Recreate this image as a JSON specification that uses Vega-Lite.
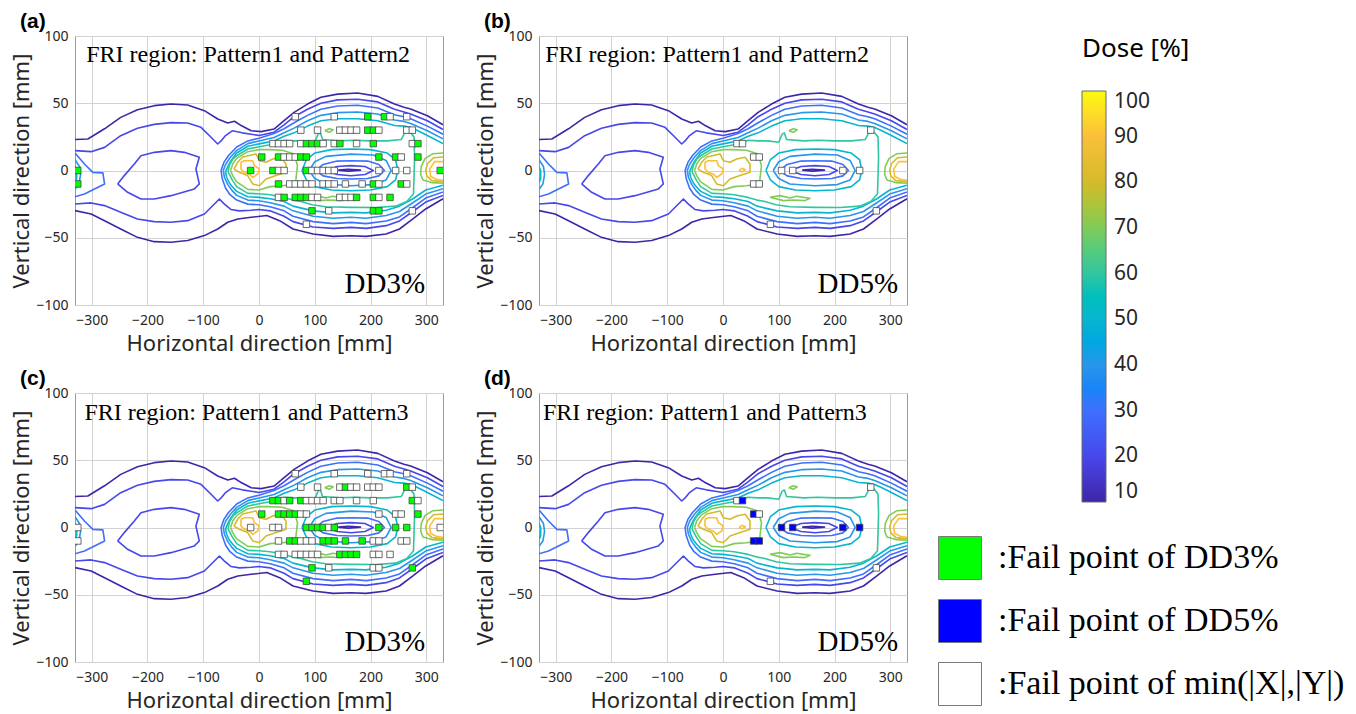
{
"$schema":"https://vega.github.io/schema/vega-lite/v6.json",
"background":"white",
"padding":{"left":10,"top":10,"right":5,"bottom":5},
"datasets":{
"ct":[
{"c":"t10","l":10,"o":0,"x":-330,"y":23},{"c":"t10","l":10,"o":1,"x":-307,"y":23.4},{"c":"t10","l":10,"o":2,"x":-277,"y":31},{"c":"t10","l":10,"o":3,"x":-248,"y":39.5},{"c":"t10","l":10,"o":4,"x":-218,"y":45.2},{"c":"t10","l":10,"o":5,"x":-188,"y":48.2},{"c":"t10","l":10,"o":6,"x":-158,"y":49.4},{"c":"t10","l":10,"o":7,"x":-128,"y":48.7},{"c":"t10","l":10,"o":8,"x":-98,"y":44.5},{"c":"t10","l":10,"o":9,"x":-74,"y":38.3},{"c":"t10","l":10,"o":10,"x":-56,"y":35.3},{"c":"t10","l":10,"o":11,"x":-44,"y":36.6},{"c":"t10","l":10,"o":12,"x":-32,"y":33.4},{"c":"t10","l":10,"o":13,"x":-14,"y":29.6},{"c":"t10","l":10,"o":14,"x":4,"y":28.9},{"c":"t10","l":10,"o":15,"x":27,"y":30.8},{"c":"t10","l":10,"o":16,"x":45,"y":37},{"c":"t10","l":10,"o":17,"x":63,"y":43.2},{"c":"t10","l":10,"o":18,"x":87,"y":49.4},{"c":"t10","l":10,"o":19,"x":111,"y":54.4},{"c":"t10","l":10,"o":20,"x":141,"y":56.8},{"c":"t10","l":10,"o":21,"x":177,"y":57.6},{"c":"t10","l":10,"o":22,"x":213,"y":55.1},{"c":"t10","l":10,"o":23,"x":243,"y":49.4},{"c":"t10","l":10,"o":24,"x":260,"y":47},{"c":"t10","l":10,"o":25,"x":272,"y":45.7},{"c":"t10","l":10,"o":26,"x":302,"y":40.7},{"c":"t10","l":10,"o":27,"x":330,"y":34},
{"c":"b10","l":10,"o":0,"x":-330,"y":-29.8},{"c":"b10","l":10,"o":1,"x":-301,"y":-32.3},{"c":"b10","l":10,"o":2,"x":-277,"y":-37.3},{"c":"b10","l":10,"o":3,"x":-248,"y":-43.5},{"c":"b10","l":10,"o":4,"x":-218,"y":-49.7},{"c":"b10","l":10,"o":5,"x":-188,"y":-52.9},{"c":"b10","l":10,"o":6,"x":-158,"y":-53.4},{"c":"b10","l":10,"o":7,"x":-128,"y":-52.1},{"c":"b10","l":10,"o":8,"x":-98,"y":-48.4},{"c":"b10","l":10,"o":9,"x":-74,"y":-43.5},{"c":"b10","l":10,"o":10,"x":-56,"y":-38.5},{"c":"b10","l":10,"o":11,"x":-38,"y":-36},{"c":"b10","l":10,"o":12,"x":-14,"y":-34.8},{"c":"b10","l":10,"o":13,"x":14,"y":-33.5},{"c":"b10","l":10,"o":14,"x":37,"y":-37.3},{"c":"b10","l":10,"o":15,"x":61,"y":-43.5},{"c":"b10","l":10,"o":16,"x":97,"y":-47.2},{"c":"b10","l":10,"o":17,"x":133,"y":-49},{"c":"b10","l":10,"o":18,"x":165,"y":-48.5},{"c":"b10","l":10,"o":19,"x":192,"y":-49},{"c":"b10","l":10,"o":20,"x":228,"y":-47.2},{"c":"b10","l":10,"o":21,"x":252,"y":-43.5},{"c":"b10","l":10,"o":22,"x":276,"y":-36},{"c":"b10","l":10,"o":23,"x":299,"y":-28.6},{"c":"b10","l":10,"o":24,"x":330,"y":-21},
{"c":"t20","l":20,"o":0,"x":-330,"y":14.8},{"c":"t20","l":20,"o":1,"x":-301,"y":14},{"c":"t20","l":20,"o":2,"x":-277,"y":17.2},{"c":"t20","l":20,"o":3,"x":-248,"y":25.9},{"c":"t20","l":20,"o":4,"x":-218,"y":31.4},{"c":"t20","l":20,"o":5,"x":-188,"y":34.3},{"c":"t20","l":20,"o":6,"x":-158,"y":35.6},{"c":"t20","l":20,"o":7,"x":-128,"y":35.3},{"c":"t20","l":20,"o":8,"x":-104,"y":32.1},{"c":"t20","l":20,"o":9,"x":-86,"y":24.7},{"c":"t20","l":20,"o":10,"x":-74,"y":19.7},{"c":"t20","l":20,"o":11,"x":-68,"y":22},{"c":"t20","l":20,"o":12,"x":-60,"y":26},{"c":"t20","l":20,"o":13,"x":-48,"y":29.5},{"c":"t20","l":20,"o":14,"x":-30,"y":28},{"c":"t20","l":20,"o":15,"x":-14,"y":27},{"c":"t20","l":20,"o":16,"x":0,"y":26},{"c":"t20","l":20,"o":17,"x":27,"y":28.5},{"c":"t20","l":20,"o":18,"x":45,"y":34},{"c":"t20","l":20,"o":19,"x":63,"y":40},{"c":"t20","l":20,"o":20,"x":87,"y":45.5},{"c":"t20","l":20,"o":21,"x":111,"y":50},{"c":"t20","l":20,"o":22,"x":141,"y":52.5},{"c":"t20","l":20,"o":23,"x":177,"y":53},{"c":"t20","l":20,"o":24,"x":213,"y":51},{"c":"t20","l":20,"o":25,"x":243,"y":45.5},{"c":"t20","l":20,"o":26,"x":260,"y":43.5},{"c":"t20","l":20,"o":27,"x":272,"y":42},{"c":"t20","l":20,"o":28,"x":302,"y":37},{"c":"t20","l":20,"o":29,"x":330,"y":30.5},
{"c":"b20","l":20,"o":0,"x":-330,"y":-24.9},{"c":"b20","l":20,"o":1,"x":-301,"y":-24.1},{"c":"b20","l":20,"o":2,"x":-277,"y":-26.1},{"c":"b20","l":20,"o":3,"x":-248,"y":-31.1},{"c":"b20","l":20,"o":4,"x":-218,"y":-36},{"c":"b20","l":20,"o":5,"x":-188,"y":-38},{"c":"b20","l":20,"o":6,"x":-158,"y":-38.5},{"c":"b20","l":20,"o":7,"x":-128,"y":-37.3},{"c":"b20","l":20,"o":8,"x":-98,"y":-32.3},{"c":"b20","l":20,"o":9,"x":-80,"y":-24.9},{"c":"b20","l":20,"o":10,"x":-71,"y":-21.2},{"c":"b20","l":20,"o":11,"x":-62,"y":-25},{"c":"b20","l":20,"o":12,"x":-50,"y":-29},{"c":"b20","l":20,"o":13,"x":-35,"y":-30},{"c":"b20","l":20,"o":14,"x":-14,"y":-29.5},{"c":"b20","l":20,"o":15,"x":0,"y":-29},{"c":"b20","l":20,"o":16,"x":20,"y":-30},{"c":"b20","l":20,"o":17,"x":45,"y":-34},{"c":"b20","l":20,"o":18,"x":61,"y":-38},{"c":"b20","l":20,"o":19,"x":97,"y":-42},{"c":"b20","l":20,"o":20,"x":133,"y":-43},{"c":"b20","l":20,"o":21,"x":165,"y":-42.3},{"c":"b20","l":20,"o":22,"x":192,"y":-43},{"c":"b20","l":20,"o":23,"x":228,"y":-41},{"c":"b20","l":20,"o":24,"x":252,"y":-37.5},{"c":"b20","l":20,"o":25,"x":276,"y":-30.5},{"c":"b20","l":20,"o":26,"x":299,"y":-23.5},{"c":"b20","l":20,"o":27,"x":330,"y":-18.5},
{"c":"r30","l":30,"o":0,"x":330,"y":27},{"c":"r30","l":30,"o":1,"x":302,"y":33},{"c":"r30","l":30,"o":2,"x":272,"y":38.5},{"c":"r30","l":30,"o":3,"x":260,"y":40},{"c":"r30","l":30,"o":4,"x":243,"y":41.5},{"c":"r30","l":30,"o":5,"x":213,"y":46.5},{"c":"r30","l":30,"o":6,"x":177,"y":48.5},{"c":"r30","l":30,"o":7,"x":141,"y":48},{"c":"r30","l":30,"o":8,"x":111,"y":45.5},{"c":"r30","l":30,"o":9,"x":87,"y":41},{"c":"r30","l":30,"o":10,"x":63,"y":35.5},{"c":"r30","l":30,"o":11,"x":45,"y":31},{"c":"r30","l":30,"o":12,"x":27,"y":27.5},{"c":"r30","l":30,"o":13,"x":0,"y":24},{"c":"r30","l":30,"o":14,"x":-20,"y":22},{"c":"r30","l":30,"o":15,"x":-40,"y":17.5},{"c":"r30","l":30,"o":16,"x":-55,"y":11},{"c":"r30","l":30,"o":17,"x":-63,"y":6},{"c":"r30","l":30,"o":18,"x":-68,"y":0},{"c":"r30","l":30,"o":19,"x":-66,"y":-6},{"c":"r30","l":30,"o":20,"x":-60,"y":-13},{"c":"r30","l":30,"o":21,"x":-52,"y":-18},{"c":"r30","l":30,"o":22,"x":-40,"y":-22},{"c":"r30","l":30,"o":23,"x":-20,"y":-25},{"c":"r30","l":30,"o":24,"x":0,"y":-25.5},{"c":"r30","l":30,"o":25,"x":20,"y":-27},{"c":"r30","l":30,"o":26,"x":45,"y":-30},{"c":"r30","l":30,"o":27,"x":61,"y":-34},{"c":"r30","l":30,"o":28,"x":97,"y":-38},{"c":"r30","l":30,"o":29,"x":133,"y":-39.5},{"c":"r30","l":30,"o":30,"x":165,"y":-38.6},{"c":"r30","l":30,"o":31,"x":192,"y":-39.5},{"c":"r30","l":30,"o":32,"x":228,"y":-37.5},{"c":"r30","l":30,"o":33,"x":252,"y":-34.5},{"c":"r30","l":30,"o":34,"x":276,"y":-27.5},{"c":"r30","l":30,"o":35,"x":299,"y":-20.5},{"c":"r30","l":30,"o":36,"x":330,"y":-16},
{"c":"r40","l":40,"o":0,"x":330,"y":23.5},{"c":"r40","l":40,"o":1,"x":302,"y":29.5},{"c":"r40","l":40,"o":2,"x":272,"y":35},{"c":"r40","l":40,"o":3,"x":260,"y":36.5},{"c":"r40","l":40,"o":4,"x":243,"y":37.5},{"c":"r40","l":40,"o":5,"x":213,"y":42},{"c":"r40","l":40,"o":6,"x":177,"y":43.5},{"c":"r40","l":40,"o":7,"x":141,"y":43},{"c":"r40","l":40,"o":8,"x":111,"y":41},{"c":"r40","l":40,"o":9,"x":87,"y":37},{"c":"r40","l":40,"o":10,"x":63,"y":31.5},{"c":"r40","l":40,"o":11,"x":45,"y":28},{"c":"r40","l":40,"o":12,"x":27,"y":24.5},{"c":"r40","l":40,"o":13,"x":0,"y":22},{"c":"r40","l":40,"o":14,"x":-20,"y":20},{"c":"r40","l":40,"o":15,"x":-40,"y":15},{"c":"r40","l":40,"o":16,"x":-52,"y":9.5},{"c":"r40","l":40,"o":17,"x":-60,"y":4.5},{"c":"r40","l":40,"o":18,"x":-64,"y":0},{"c":"r40","l":40,"o":19,"x":-62,"y":-5},{"c":"r40","l":40,"o":20,"x":-56,"y":-10.5},{"c":"r40","l":40,"o":21,"x":-48,"y":-15},{"c":"r40","l":40,"o":22,"x":-40,"y":-18.5},{"c":"r40","l":40,"o":23,"x":-20,"y":-22},{"c":"r40","l":40,"o":24,"x":0,"y":-22.5},{"c":"r40","l":40,"o":25,"x":20,"y":-24},{"c":"r40","l":40,"o":26,"x":45,"y":-26.5},{"c":"r40","l":40,"o":27,"x":61,"y":-30},{"c":"r40","l":40,"o":28,"x":97,"y":-34},{"c":"r40","l":40,"o":29,"x":133,"y":-35.5},{"c":"r40","l":40,"o":30,"x":165,"y":-34.8},{"c":"r40","l":40,"o":31,"x":192,"y":-35.5},{"c":"r40","l":40,"o":32,"x":228,"y":-33.5},{"c":"r40","l":40,"o":33,"x":252,"y":-30.5},{"c":"r40","l":40,"o":34,"x":276,"y":-24},{"c":"r40","l":40,"o":35,"x":299,"y":-17.5},{"c":"r40","l":40,"o":36,"x":330,"y":-13.5},
{"c":"r50","l":50,"o":0,"x":330,"y":20},{"c":"r50","l":50,"o":1,"x":302,"y":26},{"c":"r50","l":50,"o":2,"x":285,"y":29.5},{"c":"r50","l":50,"o":3,"x":272,"y":32},{"c":"r50","l":50,"o":4,"x":260,"y":33},{"c":"r50","l":50,"o":5,"x":243,"y":33.5},{"c":"r50","l":50,"o":6,"x":213,"y":37},{"c":"r50","l":50,"o":7,"x":177,"y":38.5},{"c":"r50","l":50,"o":8,"x":141,"y":38.5},{"c":"r50","l":50,"o":9,"x":111,"y":37},{"c":"r50","l":50,"o":10,"x":87,"y":33},{"c":"r50","l":50,"o":11,"x":63,"y":28},{"c":"r50","l":50,"o":12,"x":45,"y":25.5},{"c":"r50","l":50,"o":13,"x":27,"y":22},{"c":"r50","l":50,"o":14,"x":0,"y":19.8},{"c":"r50","l":50,"o":15,"x":-20,"y":18},{"c":"r50","l":50,"o":16,"x":-40,"y":13},{"c":"r50","l":50,"o":17,"x":-50,"y":7.5},{"c":"r50","l":50,"o":18,"x":-56,"y":3},{"c":"r50","l":50,"o":19,"x":-60,"y":-1},{"c":"r50","l":50,"o":20,"x":-58,"y":-5},{"c":"r50","l":50,"o":21,"x":-53,"y":-9.5},{"c":"r50","l":50,"o":22,"x":-47,"y":-12.5},{"c":"r50","l":50,"o":23,"x":-40,"y":-15.5},{"c":"r50","l":50,"o":24,"x":-20,"y":-19.5},{"c":"r50","l":50,"o":25,"x":0,"y":-20},{"c":"r50","l":50,"o":26,"x":20,"y":-21},{"c":"r50","l":50,"o":27,"x":45,"y":-23},{"c":"r50","l":50,"o":28,"x":61,"y":-26.5},{"c":"r50","l":50,"o":29,"x":97,"y":-30},{"c":"r50","l":50,"o":30,"x":133,"y":-31.5},{"c":"r50","l":50,"o":31,"x":165,"y":-31.1},{"c":"r50","l":50,"o":32,"x":192,"y":-31.5},{"c":"r50","l":50,"o":33,"x":228,"y":-29.5},{"c":"r50","l":50,"o":34,"x":252,"y":-26.5},{"c":"r50","l":50,"o":35,"x":276,"y":-21},{"c":"r50","l":50,"o":36,"x":299,"y":-14.5},{"c":"r50","l":50,"o":37,"x":330,"y":-11},
{"c":"r60","l":60,"o":0,"x":-55.5,"y":-1},{"c":"r60","l":60,"o":1,"x":-53,"y":4},{"c":"r60","l":60,"o":2,"x":-47,"y":8.5},{"c":"r60","l":60,"o":3,"x":-40,"y":11},{"c":"r60","l":60,"o":4,"x":-20,"y":16},{"c":"r60","l":60,"o":5,"x":0,"y":17.7},{"c":"r60","l":60,"o":6,"x":25,"y":19.5},{"c":"r60","l":60,"o":7,"x":45,"y":22.5},{"c":"r60","l":60,"o":8,"x":63,"y":22},{"c":"r60","l":60,"o":9,"x":80,"y":22},{"c":"r60","l":60,"o":10,"x":100,"y":21},{"c":"r60","l":60,"o":11,"x":106,"y":27},{"c":"r60","l":60,"o":12,"x":110,"y":28},{"c":"r60","l":60,"o":13,"x":114,"y":23},{"c":"r60","l":60,"o":14,"x":145,"y":22},{"c":"r60","l":60,"o":15,"x":170,"y":22.5},{"c":"r60","l":60,"o":16,"x":200,"y":22},{"c":"r60","l":60,"o":17,"x":230,"y":22},{"c":"r60","l":60,"o":18,"x":255,"y":23},{"c":"r60","l":60,"o":19,"x":262,"y":28.5},{"c":"r60","l":60,"o":20,"x":270,"y":29},{"c":"r60","l":60,"o":21,"x":278,"y":25},{"c":"r60","l":60,"o":22,"x":279,"y":10},{"c":"r60","l":60,"o":23,"x":278,"y":-5},{"c":"r60","l":60,"o":24,"x":277,"y":-17.5},{"c":"r60","l":60,"o":25,"x":265,"y":-23},{"c":"r60","l":60,"o":26,"x":245,"y":-26.5},{"c":"r60","l":60,"o":27,"x":210,"y":-27.5},{"c":"r60","l":60,"o":28,"x":165,"y":-27.4},{"c":"r60","l":60,"o":29,"x":120,"y":-27},{"c":"r60","l":60,"o":30,"x":95,"y":-25.5},{"c":"r60","l":60,"o":31,"x":75,"y":-23},{"c":"r60","l":60,"o":32,"x":61,"y":-22},{"c":"r60","l":60,"o":33,"x":45,"y":-20},{"c":"r60","l":60,"o":34,"x":20,"y":-18},{"c":"r60","l":60,"o":35,"x":0,"y":-17.3},{"c":"r60","l":60,"o":36,"x":-20,"y":-17},{"c":"r60","l":60,"o":37,"x":-40,"y":-12},{"c":"r60","l":60,"o":38,"x":-48,"y":-7},{"c":"r60","l":60,"o":39,"x":-55.5,"y":-1},
{"c":"h70","l":70,"o":0,"x":-51,"y":0},{"c":"h70","l":70,"o":1,"x":-47,"y":5},{"c":"h70","l":70,"o":2,"x":-40,"y":9},{"c":"h70","l":70,"o":3,"x":-20,"y":14},{"c":"h70","l":70,"o":4,"x":0,"y":15.5},{"c":"h70","l":70,"o":5,"x":18,"y":15.5},{"c":"h70","l":70,"o":6,"x":42,"y":15},{"c":"h70","l":70,"o":7,"x":63,"y":12.3},{"c":"h70","l":70,"o":8,"x":69,"y":3.6},{"c":"h70","l":70,"o":9,"x":66,"y":-7.5},{"c":"h70","l":70,"o":10,"x":56,"y":-10.5},{"c":"h70","l":70,"o":11,"x":42,"y":-11.3},{"c":"h70","l":70,"o":12,"x":20,"y":-12},{"c":"h70","l":70,"o":13,"x":0,"y":-14.5},{"c":"h70","l":70,"o":14,"x":-20,"y":-14},{"c":"h70","l":70,"o":15,"x":-40,"y":-8.5},{"c":"h70","l":70,"o":16,"x":-47,"y":-4},{"c":"h70","l":70,"o":17,"x":-51,"y":0},
{"c":"h80","l":80,"o":0,"x":-45,"y":1},{"c":"h80","l":80,"o":1,"x":-38.2,"y":6.1},{"c":"h80","l":80,"o":2,"x":-29.3,"y":10},{"c":"h80","l":80,"o":3,"x":-5.4,"y":12.3},{"c":"h80","l":80,"o":4,"x":0.6,"y":7.3},{"c":"h80","l":80,"o":5,"x":12.6,"y":6.1},{"c":"h80","l":80,"o":6,"x":24.5,"y":8.6},{"c":"h80","l":80,"o":7,"x":39.5,"y":9.8},{"c":"h80","l":80,"o":8,"x":48.4,"y":4.8},{"c":"h80","l":80,"o":9,"x":48.4,"y":-1.3},{"c":"h80","l":80,"o":10,"x":30.5,"y":-3.8},{"c":"h80","l":80,"o":11,"x":12.6,"y":-6.3},{"c":"h80","l":80,"o":12,"x":0.6,"y":-11.3},{"c":"h80","l":80,"o":13,"x":-11.3,"y":-10},{"c":"h80","l":80,"o":14,"x":-20.3,"y":-3.8},{"c":"h80","l":80,"o":15,"x":-35.2,"y":-1.3},{"c":"h80","l":80,"o":16,"x":-45,"y":1},
{"c":"h90","l":90,"o":0,"x":-32.3,"y":6.1},{"c":"h90","l":90,"o":1,"x":-26.3,"y":7.3},{"c":"h90","l":90,"o":2,"x":-11.3,"y":7.3},{"c":"h90","l":90,"o":3,"x":-8.3,"y":3.6},{"c":"h90","l":90,"o":4,"x":0.6,"y":1.1},{"c":"h90","l":90,"o":5,"x":-2.4,"y":-2.6},{"c":"h90","l":90,"o":6,"x":-11.3,"y":-5.1},{"c":"h90","l":90,"o":7,"x":-17.3,"y":-2.6},{"c":"h90","l":90,"o":8,"x":-26.3,"y":-1.3},{"c":"h90","l":90,"o":9,"x":-32.3,"y":1.1},{"c":"h90","l":90,"o":10,"x":-32.3,"y":6.1},
{"c":"h9b","l":90,"o":0,"x":29,"y":0.3},{"c":"h9b","l":90,"o":1,"x":34,"y":1.6},{"c":"h9b","l":90,"o":2,"x":40,"y":0.5},{"c":"h9b","l":90,"o":3,"x":34,"y":-1},{"c":"h9b","l":90,"o":4,"x":29,"y":0.3},
{"c":"e70","l":70,"o":0,"x":330,"y":13},{"c":"e70","l":70,"o":1,"x":312,"y":12.5},{"c":"e70","l":70,"o":2,"x":298,"y":9},{"c":"e70","l":70,"o":3,"x":291,"y":3},{"c":"e70","l":70,"o":4,"x":290,"y":-3},{"c":"e70","l":70,"o":5,"x":294,"y":-7},{"c":"e70","l":70,"o":6,"x":310,"y":-9},{"c":"e70","l":70,"o":7,"x":330,"y":-9.5},
{"c":"e80","l":80,"o":0,"x":330,"y":10},{"c":"e80","l":80,"o":1,"x":313,"y":9.5},{"c":"e80","l":80,"o":2,"x":302,"y":5},{"c":"e80","l":80,"o":3,"x":299,"y":0},{"c":"e80","l":80,"o":4,"x":301,"y":-4},{"c":"e80","l":80,"o":5,"x":310,"y":-7.5},{"c":"e80","l":80,"o":6,"x":330,"y":-8.3},
{"c":"e90","l":90,"o":0,"x":330,"y":6.6},{"c":"e90","l":90,"o":1,"x":315,"y":6.6},{"c":"e90","l":90,"o":2,"x":306,"y":1},{"c":"e90","l":90,"o":3,"x":308,"y":-4.5},{"c":"e90","l":90,"o":4,"x":318,"y":-6.5},{"c":"e90","l":90,"o":5,"x":330,"y":-7.3},
{"c":"l30","l":30,"o":0,"x":-330,"y":13},{"c":"l30","l":30,"o":1,"x":-313,"y":4.8},{"c":"l30","l":30,"o":2,"x":-298,"y":-1.4},{"c":"l30","l":30,"o":3,"x":-280,"y":-1.8},{"c":"l30","l":30,"o":4,"x":-277,"y":-10},{"c":"l30","l":30,"o":5,"x":-295,"y":-13.7},{"c":"l30","l":30,"o":6,"x":-313,"y":-17.5},{"c":"l30","l":30,"o":7,"x":-330,"y":-19.5},
{"c":"l40","l":40,"o":0,"x":-330,"y":8},{"c":"l40","l":40,"o":1,"x":-322,"y":3},{"c":"l40","l":40,"o":2,"x":-320,"y":-3},{"c":"l40","l":40,"o":3,"x":-323,"y":-10},{"c":"l40","l":40,"o":4,"x":-330,"y":-14},
{"c":"l50","l":50,"o":0,"x":-330,"y":3},{"c":"l50","l":50,"o":1,"x":-327,"y":0},{"c":"l50","l":50,"o":2,"x":-327,"y":-6},{"c":"l50","l":50,"o":3,"x":-330,"y":-9},
{"c":"i20","l":20,"o":0,"x":-253.5,"y":-10},{"c":"i20","l":20,"o":1,"x":-241.6,"y":-3.8},{"c":"i20","l":20,"o":2,"x":-223.6,"y":4.8},{"c":"i20","l":20,"o":3,"x":-211.7,"y":11},{"c":"i20","l":20,"o":4,"x":-187.8,"y":13.5},{"c":"i20","l":20,"o":5,"x":-157.9,"y":14.8},{"c":"i20","l":20,"o":6,"x":-134,"y":13.5},{"c":"i20","l":20,"o":7,"x":-107.1,"y":9.8},{"c":"i20","l":20,"o":8,"x":-113.1,"y":1.1},{"c":"i20","l":20,"o":9,"x":-107.1,"y":-10},{"c":"i20","l":20,"o":10,"x":-116,"y":-13.7},{"c":"i20","l":20,"o":11,"x":-157.9,"y":-18.7},{"c":"i20","l":20,"o":12,"x":-187.8,"y":-21.2},{"c":"i20","l":20,"o":13,"x":-211.7,"y":-21.2},{"c":"i20","l":20,"o":14,"x":-235.6,"y":-16.2},{"c":"i20","l":20,"o":15,"x":-253.5,"y":-10},
{"c":"o50","l":50,"o":0,"x":77,"y":0},{"c":"o50","l":50,"o":1,"x":85,"y":8},{"c":"o50","l":50,"o":2,"x":100,"y":13},{"c":"o50","l":50,"o":3,"x":130,"y":15.5},{"c":"o50","l":50,"o":4,"x":165,"y":16},{"c":"o50","l":50,"o":5,"x":200,"y":15.5},{"c":"o50","l":50,"o":6,"x":230,"y":13},{"c":"o50","l":50,"o":7,"x":245,"y":8},{"c":"o50","l":50,"o":8,"x":249,"y":0},{"c":"o50","l":50,"o":9,"x":245,"y":-7},{"c":"o50","l":50,"o":10,"x":230,"y":-12},{"c":"o50","l":50,"o":11,"x":200,"y":-14.5},{"c":"o50","l":50,"o":12,"x":165,"y":-15},{"c":"o50","l":50,"o":13,"x":130,"y":-14.5},{"c":"o50","l":50,"o":14,"x":100,"y":-12},{"c":"o50","l":50,"o":15,"x":85,"y":-7},{"c":"o50","l":50,"o":16,"x":77,"y":0},
{"c":"o40","l":40,"o":0,"x":90,"y":0},{"c":"o40","l":40,"o":1,"x":100,"y":6.5},{"c":"o40","l":40,"o":2,"x":120,"y":10.5},{"c":"o40","l":40,"o":3,"x":165,"y":12.2},{"c":"o40","l":40,"o":4,"x":205,"y":11.5},{"c":"o40","l":40,"o":5,"x":228,"y":7.5},{"c":"o40","l":40,"o":6,"x":237,"y":0},{"c":"o40","l":40,"o":7,"x":228,"y":-7},{"c":"o40","l":40,"o":8,"x":205,"y":-10.5},{"c":"o40","l":40,"o":9,"x":165,"y":-11.3},{"c":"o40","l":40,"o":10,"x":120,"y":-10},{"c":"o40","l":40,"o":11,"x":100,"y":-6},{"c":"o40","l":40,"o":12,"x":90,"y":0},
{"c":"o30","l":30,"o":0,"x":102,"y":0},{"c":"o30","l":30,"o":1,"x":115,"y":4.5},{"c":"o30","l":30,"o":2,"x":140,"y":7},{"c":"o30","l":30,"o":3,"x":165,"y":7.3},{"c":"o30","l":30,"o":4,"x":195,"y":7},{"c":"o30","l":30,"o":5,"x":215,"y":4.5},{"c":"o30","l":30,"o":6,"x":225,"y":0},{"c":"o30","l":30,"o":7,"x":215,"y":-4},{"c":"o30","l":30,"o":8,"x":195,"y":-6},{"c":"o30","l":30,"o":9,"x":165,"y":-6.3},{"c":"o30","l":30,"o":10,"x":140,"y":-6},{"c":"o30","l":30,"o":11,"x":115,"y":-4},{"c":"o30","l":30,"o":12,"x":102,"y":0},
{"c":"o20","l":20,"o":0,"x":120,"y":0},{"c":"o20","l":20,"o":1,"x":140,"y":3},{"c":"o20","l":20,"o":2,"x":165,"y":3.6},{"c":"o20","l":20,"o":3,"x":190,"y":3},{"c":"o20","l":20,"o":4,"x":205,"y":0},{"c":"o20","l":20,"o":5,"x":190,"y":-3},{"c":"o20","l":20,"o":6,"x":165,"y":-3.9},{"c":"o20","l":20,"o":7,"x":140,"y":-3},{"c":"o20","l":20,"o":8,"x":120,"y":0},
{"c":"o10","l":10,"o":0,"x":142,"y":0.3},{"c":"o10","l":10,"o":1,"x":160,"y":0.9},{"c":"o10","l":10,"o":2,"x":182,"y":0.3},{"c":"o10","l":10,"o":3,"x":160,"y":-0.6},{"c":"o10","l":10,"o":4,"x":142,"y":0.3},
{"c":"g7a","l":70,"o":0,"x":84.3,"y":-19.9},{"c":"g7a","l":70,"o":1,"x":102.2,"y":-18.7},{"c":"g7a","l":70,"o":2,"x":120.2,"y":-20.4},{"c":"g7a","l":70,"o":3,"x":132.1,"y":-19.2},{"c":"g7a","l":70,"o":4,"x":156,"y":-20.7},{"c":"g7a","l":70,"o":5,"x":147.1,"y":-22.4},{"c":"g7a","l":70,"o":6,"x":126.2,"y":-21.9},{"c":"g7a","l":70,"o":7,"x":108.2,"y":-22.4},{"c":"g7a","l":70,"o":8,"x":84.3,"y":-19.9},
{"c":"g7b","l":70,"o":0,"x":118,"y":29.5},{"c":"g7b","l":70,"o":1,"x":126,"y":31},{"c":"g7b","l":70,"o":2,"x":133,"y":30.2},{"c":"g7b","l":70,"o":3,"x":126,"y":28.4},{"c":"g7b","l":70,"o":4,"x":118,"y":29.5}
],
"fp":[
{"p":"a","k":"w","x":65,"y":40},{"p":"a","k":"w","x":135,"y":40},{"p":"a","k":"g","x":195,"y":40},{"p":"a","k":"g","x":225,"y":40},{"p":"a","k":"w","x":235,"y":40},{"p":"a","k":"w","x":265,"y":40},
{"p":"a","k":"w","x":75,"y":30},{"p":"a","k":"w","x":105,"y":30},{"p":"a","k":"w","x":145,"y":30},{"p":"a","k":"w","x":155,"y":30},{"p":"a","k":"w","x":165,"y":30},{"p":"a","k":"w","x":175,"y":30},{"p":"a","k":"g","x":195,"y":30},{"p":"a","k":"g","x":205,"y":30},{"p":"a","k":"w","x":215,"y":30},{"p":"a","k":"w","x":265,"y":30},{"p":"a","k":"w","x":275,"y":30},
{"p":"a","k":"w","x":25,"y":20},{"p":"a","k":"w","x":35,"y":20},{"p":"a","k":"w","x":45,"y":20},{"p":"a","k":"w","x":55,"y":20},{"p":"a","k":"w","x":75,"y":20},{"p":"a","k":"g","x":85,"y":20},{"p":"a","k":"g","x":95,"y":20},{"p":"a","k":"g","x":105,"y":20},{"p":"a","k":"w","x":115,"y":20},{"p":"a","k":"w","x":135,"y":20},{"p":"a","k":"g","x":145,"y":20},{"p":"a","k":"w","x":175,"y":20},{"p":"a","k":"g","x":205,"y":20},{"p":"a","k":"w","x":275,"y":20},{"p":"a","k":"g","x":285,"y":20},
{"p":"a","k":"g","x":5,"y":10},{"p":"a","k":"g","x":35,"y":10},{"p":"a","k":"w","x":45,"y":10},{"p":"a","k":"w","x":55,"y":10},{"p":"a","k":"w","x":65,"y":10},{"p":"a","k":"g","x":75,"y":10},{"p":"a","k":"g","x":85,"y":10},{"p":"a","k":"g","x":215,"y":10},{"p":"a","k":"g","x":245,"y":10},{"p":"a","k":"w","x":255,"y":10},{"p":"a","k":"g","x":285,"y":10},
{"p":"a","k":"g","x":-325,"y":0},{"p":"a","k":"g","x":-15,"y":0},{"p":"a","k":"g","x":25,"y":0},{"p":"a","k":"w","x":35,"y":0},{"p":"a","k":"w","x":45,"y":0},{"p":"a","k":"g","x":85,"y":0},{"p":"a","k":"w","x":95,"y":0},{"p":"a","k":"w","x":105,"y":0},{"p":"a","k":"w","x":115,"y":0},{"p":"a","k":"w","x":125,"y":0},{"p":"a","k":"w","x":135,"y":0},{"p":"a","k":"w","x":215,"y":0},{"p":"a","k":"w","x":245,"y":0},{"p":"a","k":"w","x":265,"y":0},{"p":"a","k":"g","x":325,"y":0},
{"p":"a","k":"g","x":-325,"y":-10},{"p":"a","k":"g","x":35,"y":-10},{"p":"a","k":"w","x":55,"y":-10},{"p":"a","k":"w","x":65,"y":-10},{"p":"a","k":"w","x":75,"y":-10},{"p":"a","k":"w","x":85,"y":-10},{"p":"a","k":"w","x":95,"y":-10},{"p":"a","k":"w","x":115,"y":-10},{"p":"a","k":"w","x":125,"y":-10},{"p":"a","k":"w","x":135,"y":-10},{"p":"a","k":"w","x":155,"y":-10},{"p":"a","k":"w","x":185,"y":-10},{"p":"a","k":"g","x":205,"y":-10},{"p":"a","k":"w","x":215,"y":-10},{"p":"a","k":"g","x":255,"y":-10},{"p":"a","k":"w","x":265,"y":-10},
{"p":"a","k":"w","x":35,"y":-20},{"p":"a","k":"g","x":45,"y":-20},{"p":"a","k":"g","x":65,"y":-20},{"p":"a","k":"g","x":75,"y":-20},{"p":"a","k":"g","x":85,"y":-20},{"p":"a","k":"w","x":95,"y":-20},{"p":"a","k":"w","x":105,"y":-20},{"p":"a","k":"w","x":145,"y":-20},{"p":"a","k":"w","x":155,"y":-20},{"p":"a","k":"w","x":165,"y":-20},{"p":"a","k":"g","x":175,"y":-20},{"p":"a","k":"g","x":205,"y":-20},{"p":"a","k":"w","x":215,"y":-20},{"p":"a","k":"g","x":235,"y":-20},
{"p":"a","k":"g","x":95,"y":-30},{"p":"a","k":"w","x":125,"y":-30},{"p":"a","k":"g","x":205,"y":-30},{"p":"a","k":"g","x":215,"y":-30},{"p":"a","k":"w","x":275,"y":-30},
{"p":"a","k":"w","x":85,"y":-40},
{"p":"b","k":"w","x":25,"y":20},{"p":"b","k":"w","x":35,"y":20},{"p":"b","k":"w","x":55,"y":10},{"p":"b","k":"w","x":65,"y":10},{"p":"b","k":"w","x":105,"y":0},{"p":"b","k":"w","x":125,"y":0},{"p":"b","k":"w","x":215,"y":0},{"p":"b","k":"w","x":245,"y":0},{"p":"b","k":"w","x":55,"y":-10},{"p":"b","k":"w","x":65,"y":-10},{"p":"b","k":"w","x":265,"y":30},{"p":"b","k":"w","x":275,"y":-30},{"p":"b","k":"w","x":85,"y":-40},
{"p":"c","k":"w","x":65,"y":40},{"p":"c","k":"w","x":135,"y":40},{"p":"c","k":"w","x":195,"y":40},{"p":"c","k":"w","x":225,"y":40},{"p":"c","k":"w","x":235,"y":40},{"p":"c","k":"w","x":265,"y":40},
{"p":"c","k":"w","x":75,"y":30},{"p":"c","k":"w","x":105,"y":30},{"p":"c","k":"w","x":145,"y":30},{"p":"c","k":"g","x":155,"y":30},{"p":"c","k":"w","x":165,"y":30},{"p":"c","k":"w","x":175,"y":30},{"p":"c","k":"w","x":195,"y":30},{"p":"c","k":"w","x":205,"y":30},{"p":"c","k":"w","x":215,"y":30},{"p":"c","k":"g","x":265,"y":30},{"p":"c","k":"w","x":275,"y":30},
{"p":"c","k":"g","x":25,"y":20},{"p":"c","k":"g","x":35,"y":20},{"p":"c","k":"w","x":45,"y":20},{"p":"c","k":"g","x":55,"y":20},{"p":"c","k":"g","x":75,"y":20},{"p":"c","k":"w","x":85,"y":20},{"p":"c","k":"w","x":95,"y":20},{"p":"c","k":"w","x":105,"y":20},{"p":"c","k":"w","x":115,"y":20},{"p":"c","k":"w","x":135,"y":20},{"p":"c","k":"w","x":145,"y":20},{"p":"c","k":"w","x":175,"y":20},{"p":"c","k":"w","x":205,"y":20},{"p":"c","k":"g","x":275,"y":20},{"p":"c","k":"w","x":285,"y":20},
{"p":"c","k":"g","x":5,"y":10},{"p":"c","k":"g","x":35,"y":10},{"p":"c","k":"g","x":45,"y":10},{"p":"c","k":"g","x":55,"y":10},{"p":"c","k":"g","x":65,"y":10},{"p":"c","k":"w","x":75,"y":10},{"p":"c","k":"w","x":85,"y":10},{"p":"c","k":"w","x":215,"y":10},{"p":"c","k":"w","x":245,"y":10},{"p":"c","k":"w","x":255,"y":10},{"p":"c","k":"g","x":285,"y":10},
{"p":"c","k":"w","x":-325,"y":0},{"p":"c","k":"w","x":-15,"y":0},{"p":"c","k":"w","x":25,"y":0},{"p":"c","k":"w","x":35,"y":0},{"p":"c","k":"g","x":85,"y":0},{"p":"c","k":"g","x":95,"y":0},{"p":"c","k":"g","x":105,"y":0},{"p":"c","k":"g","x":115,"y":0},{"p":"c","k":"w","x":125,"y":0},{"p":"c","k":"g","x":135,"y":0},{"p":"c","k":"g","x":215,"y":0},{"p":"c","k":"g","x":245,"y":0},{"p":"c","k":"g","x":265,"y":0},{"p":"c","k":"w","x":325,"y":0},
{"p":"c","k":"w","x":-325,"y":-10},{"p":"c","k":"w","x":35,"y":-10},{"p":"c","k":"g","x":55,"y":-10},{"p":"c","k":"g","x":65,"y":-10},{"p":"c","k":"w","x":75,"y":-10},{"p":"c","k":"w","x":85,"y":-10},{"p":"c","k":"w","x":95,"y":-10},{"p":"c","k":"g","x":115,"y":-10},{"p":"c","k":"g","x":125,"y":-10},{"p":"c","k":"g","x":135,"y":-10},{"p":"c","k":"g","x":155,"y":-10},{"p":"c","k":"g","x":185,"y":-10},{"p":"c","k":"w","x":205,"y":-10},{"p":"c","k":"w","x":215,"y":-10},{"p":"c","k":"w","x":255,"y":-10},{"p":"c","k":"w","x":265,"y":-10},
{"p":"c","k":"w","x":35,"y":-20},{"p":"c","k":"w","x":45,"y":-20},{"p":"c","k":"w","x":65,"y":-20},{"p":"c","k":"w","x":75,"y":-20},{"p":"c","k":"w","x":85,"y":-20},{"p":"c","k":"w","x":95,"y":-20},{"p":"c","k":"w","x":105,"y":-20},{"p":"c","k":"g","x":145,"y":-20},{"p":"c","k":"g","x":155,"y":-20},{"p":"c","k":"g","x":165,"y":-20},{"p":"c","k":"g","x":175,"y":-20},{"p":"c","k":"w","x":205,"y":-20},{"p":"c","k":"w","x":215,"y":-20},{"p":"c","k":"w","x":235,"y":-20},
{"p":"c","k":"g","x":95,"y":-30},{"p":"c","k":"w","x":125,"y":-30},{"p":"c","k":"w","x":205,"y":-30},{"p":"c","k":"w","x":215,"y":-30},{"p":"c","k":"g","x":275,"y":-30},
{"p":"c","k":"g","x":85,"y":-40},
{"p":"d","k":"w","x":25,"y":20},{"p":"d","k":"b","x":35,"y":20},{"p":"d","k":"b","x":55,"y":10},{"p":"d","k":"w","x":65,"y":10},{"p":"d","k":"b","x":105,"y":0},{"p":"d","k":"b","x":125,"y":0},{"p":"d","k":"b","x":215,"y":0},{"p":"d","k":"b","x":245,"y":0},{"p":"d","k":"b","x":55,"y":-10},{"p":"d","k":"b","x":65,"y":-10},{"p":"d","k":"w","x":265,"y":30},{"p":"d","k":"w","x":275,"y":-30},{"p":"d","k":"w","x":85,"y":-40}
]
},
"columns":2,
"spacing":{"row":88,"column":96},
"bounds":"flush",
"resolve":{"scale":{"color":"shared","fill":"shared"},"legend":{"color":"shared","fill":"shared"}},
"concat":[
{"width":368,"height":269,
"title":{"text":"(a)","anchor":"start","frame":"group","dx":-55,"offset":-3,"font":"Liberation Sans","fontSize":21,"fontWeight":"bold","color":"black"},
"layer":[
{"data":{"name":"ct"},"mark":{"type":"line","strokeWidth":1.6,"clip":true,"strokeJoin":"round"},
"encoding":{
"x":{"field":"x","type":"quantitative","scale":{"domain":[-330,330],"nice":false,"zero":false},"axis":{"orient":"bottom","title":"Horizontal direction [mm]","values":[-300,-200,-100,0,100,200,300],"gridColor":"#d2d2d2","labelPadding":8,"titlePadding":6}},
"y":{"field":"y","type":"quantitative","scale":{"domain":[-100,100],"nice":false,"zero":false},"axis":{"orient":"left","title":"Vertical direction [mm]","values":[-100,-50,0,50,100],"gridColor":"#d2d2d2","labelPadding":7,"titlePadding":2}},
"color":{"field":"l","type":"quantitative","scale":{"domain":[10,20,30,40,50,60,70,80,90,100],"range":["#3e26a8","#4747eb","#3e6ffe","#2796eb","#08b5d0","#31c69f","#80cc59","#d4bb2a","#fbbf3a","#f9fb0e"]},"legend":{"orient":"none","legendX":1007,"legendY":0,"direction":"vertical","type":"gradient","gradientLength":411,"gradientThickness":24,"gradientStrokeColor":"#6a6a6a","gradientStrokeWidth":1,"title":"Dose [%]","titleFont":"Noto Sans","titleFontSize":26,"titleFontWeight":"normal","titleColor":"black","titlePadding":29,"titleLimit":0,"labelFont":"Noto Sans","labelFontSize":21,"labelColor":"#262626","labelOffset":8,"labelOverlap":false,"values":[10,20,30,40,50,60,70,80,90,100]}},
"detail":{"field":"c"},
"order":{"field":"o"}}},
{"data":{"name":"fp"},"transform":[{"filter":"datum.p === 'a'"}],"mark":{"type":"point","shape":"square","filled":true,"size":42,"stroke":"#444","strokeWidth":0.8,"opacity":1,"clip":true},
"encoding":{"x":{"field":"x","type":"quantitative","axis":{"orient":"top","values":[-320,-310,-290,-280,-270,-260,-250,-240,-230,-220,-210,-190,-180,-170,-160,-150,-140,-130,-120,-110,-90,-80,-70,-60,-50,-40,-30,-20,-10,10,20,30,40,50,60,70,80,90,110,120,130,140,150,160,170,180,190,210,220,230,240,250,260,270,280,290,310,320],"labels":false,"title":null,"gridColor":"#e0e0e0","gridDash":[1.5,1.5]}},"y":{"field":"y","type":"quantitative","axis":{"orient":"right","values":[-90,-80,-70,-60,-40,-30,-20,-10,10,20,30,40,60,70,80,90],"labels":false,"title":null,"gridColor":"#e0e0e0","gridDash":[1.5,1.5]}},
"fill":{"field":"k","type":"nominal","scale":{"domain":["g","b","w"],"range":["#00ff00","#0000ff","#ffffff"]},"legend":{"orient":"none","legendX":863,"legendY":500,"title":null,"symbolType":"square","symbolSize":1849,"symbolStrokeColor":"#7a7a7a","symbolStrokeWidth":1,"symbolOpacity":1,"labelFont":"Liberation Serif","labelFontSize":34,"labelColor":"black","labelOffset":16,"rowPadding":15,"labelExpr":"datum.label === 'g' ? ':Fail point of DD3%' : datum.label === 'b' ? ':Fail point of DD5%' : ':Fail point of min(|X|,|Y|)'"}}}},
{"data":{"values":[{}]},"mark":{"type":"text","align":"left","baseline":"alphabetic","font":"Liberation Serif","fontSize":24,"color":"black"},"encoding":{"x":{"datum":-310,"axis":null},"y":{"datum":80.4,"axis":null},"text":{"value":"FRI region: Pattern1 and Pattern2"}}},
{"data":{"values":[{}]},"mark":{"type":"text","align":"right","baseline":"alphabetic","font":"Liberation Serif","fontSize":29,"color":"black"},"encoding":{"x":{"datum":298,"axis":null},"y":{"datum":-91,"axis":null},"text":{"value":"DD3%"}}}
]},
{"width":368,"height":269,
"title":{"text":"(b)","anchor":"start","frame":"group","dx":-55,"offset":-3,"font":"Liberation Sans","fontSize":21,"fontWeight":"bold","color":"black"},
"layer":[
{"data":{"name":"ct"},"mark":{"type":"line","strokeWidth":1.6,"clip":true,"strokeJoin":"round"},
"encoding":{
"x":{"field":"x","type":"quantitative","scale":{"domain":[-330,330],"nice":false,"zero":false},"axis":{"orient":"bottom","title":"Horizontal direction [mm]","values":[-300,-200,-100,0,100,200,300],"gridColor":"#d2d2d2","labelPadding":8,"titlePadding":6}},
"y":{"field":"y","type":"quantitative","scale":{"domain":[-100,100],"nice":false,"zero":false},"axis":{"orient":"left","title":"Vertical direction [mm]","values":[-100,-50,0,50,100],"gridColor":"#d2d2d2","labelPadding":7,"titlePadding":2}},
"color":{"field":"l","type":"quantitative","scale":{"domain":[10,20,30,40,50,60,70,80,90,100],"range":["#3e26a8","#4747eb","#3e6ffe","#2796eb","#08b5d0","#31c69f","#80cc59","#d4bb2a","#fbbf3a","#f9fb0e"]},"legend":{"orient":"none","legendX":1007,"legendY":0,"direction":"vertical","type":"gradient","gradientLength":411,"gradientThickness":24,"gradientStrokeColor":"#6a6a6a","gradientStrokeWidth":1,"title":"Dose [%]","titleFont":"Noto Sans","titleFontSize":26,"titleFontWeight":"normal","titleColor":"black","titlePadding":29,"titleLimit":0,"labelFont":"Noto Sans","labelFontSize":21,"labelColor":"#262626","labelOffset":8,"labelOverlap":false,"values":[10,20,30,40,50,60,70,80,90,100]}},
"detail":{"field":"c"},
"order":{"field":"o"}}},
{"data":{"name":"fp"},"transform":[{"filter":"datum.p === 'b'"}],"mark":{"type":"point","shape":"square","filled":true,"size":42,"stroke":"#444","strokeWidth":0.8,"opacity":1,"clip":true},
"encoding":{"x":{"field":"x","type":"quantitative","axis":{"orient":"top","values":[-320,-310,-290,-280,-270,-260,-250,-240,-230,-220,-210,-190,-180,-170,-160,-150,-140,-130,-120,-110,-90,-80,-70,-60,-50,-40,-30,-20,-10,10,20,30,40,50,60,70,80,90,110,120,130,140,150,160,170,180,190,210,220,230,240,250,260,270,280,290,310,320],"labels":false,"title":null,"gridColor":"#e0e0e0","gridDash":[1.5,1.5]}},"y":{"field":"y","type":"quantitative","axis":{"orient":"right","values":[-90,-80,-70,-60,-40,-30,-20,-10,10,20,30,40,60,70,80,90],"labels":false,"title":null,"gridColor":"#e0e0e0","gridDash":[1.5,1.5]}},
"fill":{"field":"k","type":"nominal","scale":{"domain":["g","b","w"],"range":["#00ff00","#0000ff","#ffffff"]},"legend":{"orient":"none","legendX":863,"legendY":500,"title":null,"symbolType":"square","symbolSize":1849,"symbolStrokeColor":"#7a7a7a","symbolStrokeWidth":1,"symbolOpacity":1,"labelFont":"Liberation Serif","labelFontSize":34,"labelColor":"black","labelOffset":16,"rowPadding":15,"labelExpr":"datum.label === 'g' ? ':Fail point of DD3%' : datum.label === 'b' ? ':Fail point of DD5%' : ':Fail point of min(|X|,|Y|)'"}}}},
{"data":{"values":[{}]},"mark":{"type":"text","align":"left","baseline":"alphabetic","font":"Liberation Serif","fontSize":24,"color":"black"},"encoding":{"x":{"datum":-319,"axis":null},"y":{"datum":80.4,"axis":null},"text":{"value":"FRI region: Pattern1 and Pattern2"}}},
{"data":{"values":[{}]},"mark":{"type":"text","align":"right","baseline":"alphabetic","font":"Liberation Serif","fontSize":29,"color":"black"},"encoding":{"x":{"datum":314,"axis":null},"y":{"datum":-91,"axis":null},"text":{"value":"DD5%"}}}
]},
{"width":368,"height":269,
"title":{"text":"(c)","anchor":"start","frame":"group","dx":-55,"offset":-3,"font":"Liberation Sans","fontSize":21,"fontWeight":"bold","color":"black"},
"layer":[
{"data":{"name":"ct"},"mark":{"type":"line","strokeWidth":1.6,"clip":true,"strokeJoin":"round"},
"encoding":{
"x":{"field":"x","type":"quantitative","scale":{"domain":[-330,330],"nice":false,"zero":false},"axis":{"orient":"bottom","title":"Horizontal direction [mm]","values":[-300,-200,-100,0,100,200,300],"gridColor":"#d2d2d2","labelPadding":8,"titlePadding":6}},
"y":{"field":"y","type":"quantitative","scale":{"domain":[-100,100],"nice":false,"zero":false},"axis":{"orient":"left","title":"Vertical direction [mm]","values":[-100,-50,0,50,100],"gridColor":"#d2d2d2","labelPadding":7,"titlePadding":2}},
"color":{"field":"l","type":"quantitative","scale":{"domain":[10,20,30,40,50,60,70,80,90,100],"range":["#3e26a8","#4747eb","#3e6ffe","#2796eb","#08b5d0","#31c69f","#80cc59","#d4bb2a","#fbbf3a","#f9fb0e"]},"legend":{"orient":"none","legendX":1007,"legendY":0,"direction":"vertical","type":"gradient","gradientLength":411,"gradientThickness":24,"gradientStrokeColor":"#6a6a6a","gradientStrokeWidth":1,"title":"Dose [%]","titleFont":"Noto Sans","titleFontSize":26,"titleFontWeight":"normal","titleColor":"black","titlePadding":29,"titleLimit":0,"labelFont":"Noto Sans","labelFontSize":21,"labelColor":"#262626","labelOffset":8,"labelOverlap":false,"values":[10,20,30,40,50,60,70,80,90,100]}},
"detail":{"field":"c"},
"order":{"field":"o"}}},
{"data":{"name":"fp"},"transform":[{"filter":"datum.p === 'c'"}],"mark":{"type":"point","shape":"square","filled":true,"size":42,"stroke":"#444","strokeWidth":0.8,"opacity":1,"clip":true},
"encoding":{"x":{"field":"x","type":"quantitative","axis":{"orient":"top","values":[-320,-310,-290,-280,-270,-260,-250,-240,-230,-220,-210,-190,-180,-170,-160,-150,-140,-130,-120,-110,-90,-80,-70,-60,-50,-40,-30,-20,-10,10,20,30,40,50,60,70,80,90,110,120,130,140,150,160,170,180,190,210,220,230,240,250,260,270,280,290,310,320],"labels":false,"title":null,"gridColor":"#e0e0e0","gridDash":[1.5,1.5]}},"y":{"field":"y","type":"quantitative","axis":{"orient":"right","values":[-90,-80,-70,-60,-40,-30,-20,-10,10,20,30,40,60,70,80,90],"labels":false,"title":null,"gridColor":"#e0e0e0","gridDash":[1.5,1.5]}},
"fill":{"field":"k","type":"nominal","scale":{"domain":["g","b","w"],"range":["#00ff00","#0000ff","#ffffff"]},"legend":{"orient":"none","legendX":863,"legendY":500,"title":null,"symbolType":"square","symbolSize":1849,"symbolStrokeColor":"#7a7a7a","symbolStrokeWidth":1,"symbolOpacity":1,"labelFont":"Liberation Serif","labelFontSize":34,"labelColor":"black","labelOffset":16,"rowPadding":15,"labelExpr":"datum.label === 'g' ? ':Fail point of DD3%' : datum.label === 'b' ? ':Fail point of DD5%' : ':Fail point of min(|X|,|Y|)'"}}}},
{"data":{"values":[{}]},"mark":{"type":"text","align":"left","baseline":"alphabetic","font":"Liberation Serif","fontSize":24,"color":"black"},"encoding":{"x":{"datum":-313,"axis":null},"y":{"datum":80,"axis":null},"text":{"value":"FRI region: Pattern1 and Pattern3"}}},
{"data":{"values":[{}]},"mark":{"type":"text","align":"right","baseline":"alphabetic","font":"Liberation Serif","fontSize":29,"color":"black"},"encoding":{"x":{"datum":298,"axis":null},"y":{"datum":-92,"axis":null},"text":{"value":"DD3%"}}}
]},
{"width":368,"height":269,
"title":{"text":"(d)","anchor":"start","frame":"group","dx":-55,"offset":-3,"font":"Liberation Sans","fontSize":21,"fontWeight":"bold","color":"black"},
"layer":[
{"data":{"name":"ct"},"mark":{"type":"line","strokeWidth":1.6,"clip":true,"strokeJoin":"round"},
"encoding":{
"x":{"field":"x","type":"quantitative","scale":{"domain":[-330,330],"nice":false,"zero":false},"axis":{"orient":"bottom","title":"Horizontal direction [mm]","values":[-300,-200,-100,0,100,200,300],"gridColor":"#d2d2d2","labelPadding":8,"titlePadding":6}},
"y":{"field":"y","type":"quantitative","scale":{"domain":[-100,100],"nice":false,"zero":false},"axis":{"orient":"left","title":"Vertical direction [mm]","values":[-100,-50,0,50,100],"gridColor":"#d2d2d2","labelPadding":7,"titlePadding":2}},
"color":{"field":"l","type":"quantitative","scale":{"domain":[10,20,30,40,50,60,70,80,90,100],"range":["#3e26a8","#4747eb","#3e6ffe","#2796eb","#08b5d0","#31c69f","#80cc59","#d4bb2a","#fbbf3a","#f9fb0e"]},"legend":{"orient":"none","legendX":1007,"legendY":0,"direction":"vertical","type":"gradient","gradientLength":411,"gradientThickness":24,"gradientStrokeColor":"#6a6a6a","gradientStrokeWidth":1,"title":"Dose [%]","titleFont":"Noto Sans","titleFontSize":26,"titleFontWeight":"normal","titleColor":"black","titlePadding":29,"titleLimit":0,"labelFont":"Noto Sans","labelFontSize":21,"labelColor":"#262626","labelOffset":8,"labelOverlap":false,"values":[10,20,30,40,50,60,70,80,90,100]}},
"detail":{"field":"c"},
"order":{"field":"o"}}},
{"data":{"name":"fp"},"transform":[{"filter":"datum.p === 'd'"}],"mark":{"type":"point","shape":"square","filled":true,"size":42,"stroke":"#444","strokeWidth":0.8,"opacity":1,"clip":true},
"encoding":{"x":{"field":"x","type":"quantitative","axis":{"orient":"top","values":[-320,-310,-290,-280,-270,-260,-250,-240,-230,-220,-210,-190,-180,-170,-160,-150,-140,-130,-120,-110,-90,-80,-70,-60,-50,-40,-30,-20,-10,10,20,30,40,50,60,70,80,90,110,120,130,140,150,160,170,180,190,210,220,230,240,250,260,270,280,290,310,320],"labels":false,"title":null,"gridColor":"#e0e0e0","gridDash":[1.5,1.5]}},"y":{"field":"y","type":"quantitative","axis":{"orient":"right","values":[-90,-80,-70,-60,-40,-30,-20,-10,10,20,30,40,60,70,80,90],"labels":false,"title":null,"gridColor":"#e0e0e0","gridDash":[1.5,1.5]}},
"fill":{"field":"k","type":"nominal","scale":{"domain":["g","b","w"],"range":["#00ff00","#0000ff","#ffffff"]},"legend":{"orient":"none","legendX":863,"legendY":500,"title":null,"symbolType":"square","symbolSize":1849,"symbolStrokeColor":"#7a7a7a","symbolStrokeWidth":1,"symbolOpacity":1,"labelFont":"Liberation Serif","labelFontSize":34,"labelColor":"black","labelOffset":16,"rowPadding":15,"labelExpr":"datum.label === 'g' ? ':Fail point of DD3%' : datum.label === 'b' ? ':Fail point of DD5%' : ':Fail point of min(|X|,|Y|)'"}}}},
{"data":{"values":[{}]},"mark":{"type":"text","align":"left","baseline":"alphabetic","font":"Liberation Serif","fontSize":24,"color":"black"},"encoding":{"x":{"datum":-323,"axis":null},"y":{"datum":80,"axis":null},"text":{"value":"FRI region: Pattern1 and Pattern3"}}},
{"data":{"values":[{}]},"mark":{"type":"text","align":"right","baseline":"alphabetic","font":"Liberation Serif","fontSize":29,"color":"black"},"encoding":{"x":{"datum":314,"axis":null},"y":{"datum":-92,"axis":null},"text":{"value":"DD5%"}}}
]}
],
"config":{
"view":{"stroke":"#9a9a9a","strokeWidth":1},
"axis":{"ticks":false,"domain":false,"labelOverlap":false,"labelFont":"Noto Sans","labelFontSize":14,"labelColor":"#262626","titleFont":"Noto Sans","titleFontSize":22,"titleFontWeight":"normal","titleColor":"#262626","grid":true},
"legend":{"labelLimit":0}
}
}
